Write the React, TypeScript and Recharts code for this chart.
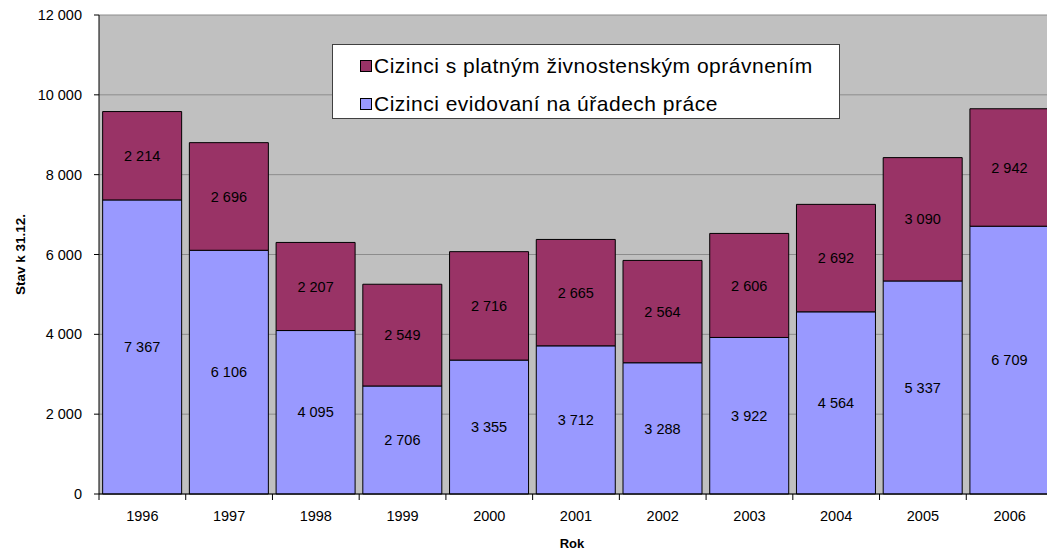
import React from 'react';
import { BarChart, Bar, XAxis, YAxis, CartesianGrid, Legend, LabelList, Label } from 'recharts';

const years = ['1996', '1997', '1998', '1999', '2000', '2001', '2002', '2003', '2004', '2005', '2006'];
const evidovani = [7367, 6106, 4095, 2706, 3355, 3712, 3288, 3922, 4564, 5337, 6709];
const zivnostenske = [2214, 2696, 2207, 2549, 2716, 2665, 2564, 2606, 2692, 3090, 2942];
const yTicks = [0, 2000, 4000, 6000, 8000, 10000, 12000];

const NAME_TOP = 'Cizinci s platným živnostenským oprávnením';
const NAME_BOTTOM = 'Cizinci evidovaní na úřadech práce';
const BLUE = '#9999FF';
const MAROON = '#993366';

const data = years.map((y, i) => ({ year: y, evid: evidovani[i], ziv: zivnostenske[i] }));

const fmt = (v: any) => {
  const n = Number(v);
  return String(n).replace(/\B(?=(\d{3})+(?!\d))/g, ' ');
};

const FONT = '"Liberation Sans", Arial, sans-serif';
const PLOT_LEFT = 99;
const PLOT_RIGHT = 1053;
const BAND = (PLOT_RIGHT - PLOT_LEFT) / years.length;

// excel puts the x tick marks on the category boundaries, not the centres
function YearTick(props: any) {
  const { x, y, payload } = props;
  const bx = x - BAND / 2;
  return (
    <g>
      <line x1={bx} y1={y - 8} x2={bx} y2={y - 2} stroke="#000" strokeWidth={1} />
      <text x={x} y={y + 14} textAnchor="middle" dominantBaseline="central" fontSize={14.5} fill="#000" fontFamily={FONT}>
        {payload.value}
      </text>
    </g>
  );
}

function LegendBox() {
  const items = [
    { name: NAME_TOP, color: MAROON },
    { name: NAME_BOTTOM, color: BLUE },
  ];
  return (
    <div style={{ width: 506, height: 73, background: '#fff', border: '1.5px solid #404040', boxSizing: 'content-box', fontFamily: FONT }}>
      {items.map((it, i) => (
        <div key={i} style={{ position: 'absolute', left: 28, top: i === 0 ? 10 : 48, display: 'flex', alignItems: 'center', fontSize: 21, letterSpacing: 0.5, color: '#000', lineHeight: '24px', whiteSpace: 'nowrap' }}>
          <span style={{ display: 'inline-block', width: 10, height: 10, background: it.color, border: '1px solid #000', marginRight: 2 }} />
          {it.name}
        </div>
      ))}
    </div>
  );
}

export default function App() {
  return (
    <div style={{ position: 'fixed', top: 0, left: 0, width: 1047, height: 553, overflow: 'hidden', background: '#fff' }}>
      <BarChart
        width={1060}
        height={553}
        data={data}
        margin={{ top: 15, right: 7, left: 0, bottom: 0 }}
        barCategoryGap="4.2%"
        style={{ fontFamily: FONT }}
      >
        <CartesianGrid vertical={false} stroke="#8c8c8c" fill="#C0C0C0" />
        <XAxis
          dataKey="year"
          height={59}
          axisLine={{ stroke: '#000' }}
          tickLine={false}
          tick={<YearTick />}
          interval={0}
        >
          <Label
            content={(p: any) => {
              const vb = p.viewBox;
              return (
                <text x={vb.x + vb.width / 2 - 4} y={vb.y + 49} textAnchor="middle" dominantBaseline="central" fontWeight="bold" fontSize={13} fill="#000" fontFamily={FONT}>
                  Rok
                </text>
              );
            }}
          />
        </XAxis>
        <YAxis
          width={PLOT_LEFT}
          domain={[0, 12000]}
          ticks={yTicks}
          tickFormatter={fmt}
          axisLine={{ stroke: '#000' }}
          tickLine={{ stroke: '#000' }}
          tickSize={5}
          tickMargin={12}
          tick={{ fontSize: 14.5, fill: '#000' }}
        >
          <Label
            content={(p: any) => {
              const vb = p.viewBox;
              const cx = 20;
              const cy = vb.y + vb.height / 2;
              return (
                <text x={cx} y={cy} transform={`rotate(-90 ${cx} ${cy})`} textAnchor="middle" dominantBaseline="central" fontWeight="bold" fontSize={13.5} fill="#000" fontFamily={FONT}>
                  Stav k 31.12.
                </text>
              );
            }}
          />
        </YAxis>
        <Legend
          layout="horizontal"
          align="center"
          verticalAlign="middle"
          content={<LegendBox />}
          wrapperStyle={{ position: 'absolute', left: 332, top: 44, width: 'auto' }}
        />
        <Bar dataKey="evid" name={NAME_BOTTOM} stackId="a" fill={BLUE} stroke="#000" strokeWidth={1} isAnimationActive={false}>
          <LabelList dataKey="evid" position="center" formatter={fmt} style={{ fontSize: 14.5, fill: '#000' }} />
        </Bar>
        <Bar dataKey="ziv" name={NAME_TOP} stackId="a" fill={MAROON} stroke="#000" strokeWidth={1} isAnimationActive={false}>
          <LabelList dataKey="ziv" position="center" formatter={fmt} style={{ fontSize: 14.5, fill: '#000' }} />
        </Bar>
      </BarChart>
    </div>
  );
}
